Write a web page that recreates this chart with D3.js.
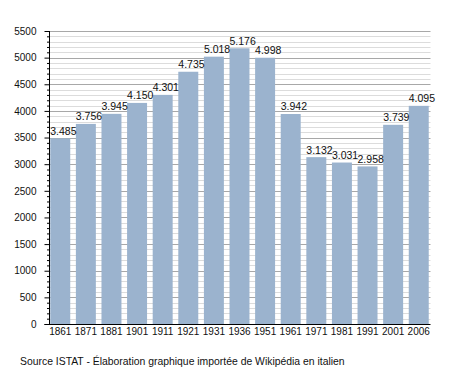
<!DOCTYPE html>
<html><head><meta charset="utf-8">
<script src="https://cdn.jsdelivr.net/npm/d3@7"></script>
<style>body{margin:0;background:#fff}text{font-family:"Liberation Sans",Arial,sans-serif}</style>
</head><body>
<script>
const years = ["1861","1871","1881","1901","1911","1921","1931","1936","1951","1961","1971","1981","1991","2001","2006"];
const population = [3485,3756,3945,4150,4301,4735,5018,5176,4998,3942,3132,3031,2958,3739,4095];
const valueLabels = ["3.485","3.756","3.945","4.150","4.301","4.735","5.018","5.176","4.998","3.942","3.132","3.031","2.958","3.739","4.095"];
const yMax = 5500;
const majorTicks = d3.range(0, 5501, 500);
const minorTicks = d3.range(0, 5501, 100);
const sourceText = "Source ISTAT - Élaboration graphique importée de Wikipédia en italien";

const W = 458, H = 373;
const pLeft = 49.5, pRight = 429.5, pTop = 31, pBottom = 324;
const svg = d3.select("body").append("svg").attr("width", W).attr("height", H);

const x = d3.scaleBand().domain(years).range([pLeft, pRight]).paddingInner(0.22).paddingOuter(0.03);
const y = d3.scaleLinear().domain([0, yMax]).range([pBottom, pTop]);

// minor grid
svg.append("g").selectAll("line").data(minorTicks.filter(d => d % 500 !== 0)).join("line")
  .attr("x1", pLeft).attr("x2", pRight + 1).attr("y1", d => Math.round(y(d)) + 0.5).attr("y2", d => Math.round(y(d)) + 0.5)
  .attr("stroke", "#dcdcdc").attr("stroke-width", 1);
// major grid
svg.append("g").selectAll("line").data(majorTicks.filter(d => d > 0)).join("line")
  .attr("x1", pLeft).attr("x2", pRight + 1).attr("y1", d => Math.round(y(d)) + 0.5).attr("y2", d => Math.round(y(d)) + 0.5)
  .attr("stroke", "#a8a8a8").attr("stroke-width", 1);

// bars
svg.append("g").selectAll("rect").data(years).join("rect")
  .attr("x", d => x(d)).attr("width", x.bandwidth())
  .attr("y", (d, i) => y(population[i])).attr("height", (d, i) => pBottom - y(population[i]))
  .attr("fill", "#9bb3ce");

// value labels
svg.append("g").selectAll("text").data(years).join("text")
  .attr("x", d => x(d)).attr("y", (d, i) => y(population[i]) - 3.5)
  .attr("font-size", 10.5).attr("fill", "#111")
  .text((d, i) => valueLabels[i]);

// y axis
const yAxis = d3.axisLeft(y).tickValues(majorTicks).tickSize(5).tickPadding(8).tickFormat(d3.format("d"));
const gy = svg.append("g").attr("transform", `translate(${pLeft},0)`).call(yAxis);
gy.select(".domain").remove();
gy.selectAll(".tick line").attr("stroke", "#000");
gy.selectAll("text").attr("font-size", 10).attr("font-family", "Liberation Sans, Arial, sans-serif").attr("fill", "#111");
const yMinor = d3.axisLeft(y).tickValues(minorTicks.filter(d => d % 500 !== 0)).tickSize(2.5).tickFormat("");
const gym = svg.append("g").attr("transform", `translate(${pLeft},0)`).call(yMinor);
gym.select(".domain").remove();
gym.selectAll(".tick line").attr("stroke", "#000");
svg.append("line").attr("x1", pLeft).attr("x2", pLeft).attr("y1", pTop).attr("y2", pBottom).attr("stroke", "#000");

// x axis
const xAxis = d3.axisBottom(x).tickSize(0).tickPadding(4);
const gx = svg.append("g").attr("transform", `translate(0,${pBottom})`).call(xAxis);
gx.select(".domain").remove();
gx.selectAll("text").attr("font-size", 10).attr("font-family", "Liberation Sans, Arial, sans-serif").attr("fill", "#111");
svg.append("line").attr("x1", pLeft - 5).attr("x2", pRight + 1).attr("y1", pBottom + 0.5).attr("y2", pBottom + 0.5).attr("stroke", "#000");

svg.append("text").attr("x", 20).attr("y", 365).attr("font-size", 10.4).attr("fill", "#111").text(sourceText);
</script>
</body></html>
